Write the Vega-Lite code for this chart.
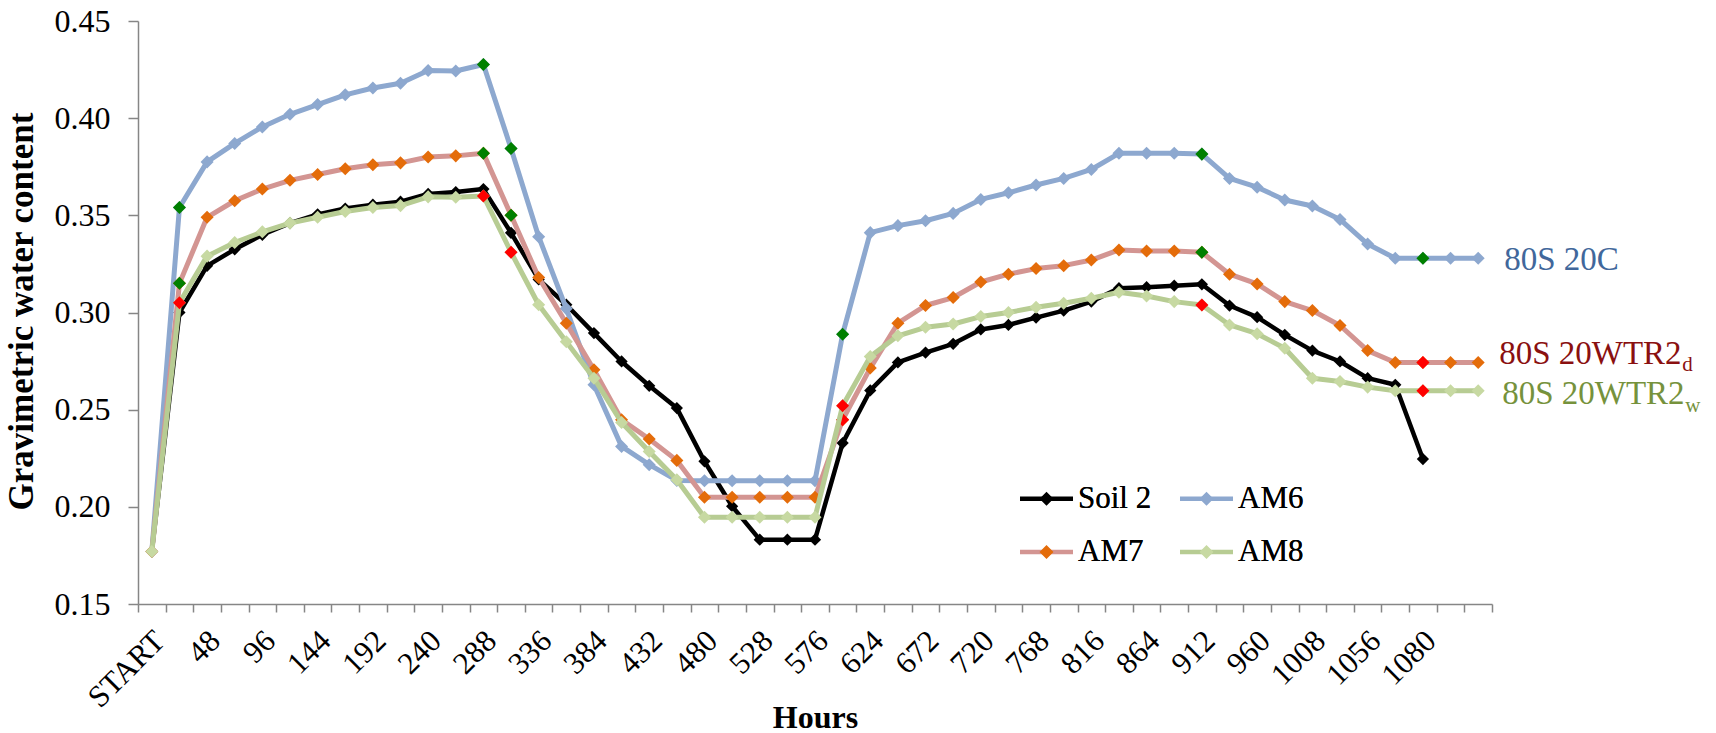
{
 "$schema": "https://vega.github.io/schema/vega-lite/v6.json",
 "width": 1354,
 "height": 583,
 "autosize": {"type": "none"},
 "padding": {"left": 138, "top": 21, "right": 224, "bottom": 129},
 "background": "white",
 "config": {"view": {"stroke": null}, "font": "Liberation Serif"},
 "datasets": {
  "wide": [
   {"hour": "START", "Soil 2": 0.177, "AM6": 0.177, "AM7": 0.177, "AM8": 0.177},
   {"hour": "24", "Soil 2": 0.300, "AM6": 0.354, "AM7": 0.315, "AM8": 0.305},
   {"hour": "48", "Soil 2": 0.324, "AM6": 0.3775, "AM7": 0.349, "AM8": 0.329},
   {"hour": "72", "Soil 2": 0.3325, "AM6": 0.387, "AM7": 0.3575, "AM8": 0.336},
   {"hour": "96", "Soil 2": 0.340, "AM6": 0.3955, "AM7": 0.3635, "AM8": 0.3415},
   {"hour": "120", "Soil 2": 0.346, "AM6": 0.402, "AM7": 0.368, "AM8": 0.346},
   {"hour": "144", "Soil 2": 0.3505, "AM6": 0.407, "AM7": 0.371, "AM8": 0.349},
   {"hour": "168", "Soil 2": 0.3535, "AM6": 0.412, "AM7": 0.374, "AM8": 0.352},
   {"hour": "192", "Soil 2": 0.3555, "AM6": 0.4155, "AM7": 0.376, "AM8": 0.354},
   {"hour": "216", "Soil 2": 0.357, "AM6": 0.418, "AM7": 0.377, "AM8": 0.355},
   {"hour": "240", "Soil 2": 0.361, "AM6": 0.4245, "AM7": 0.380, "AM8": 0.3595},
   {"hour": "264", "Soil 2": 0.362, "AM6": 0.4243, "AM7": 0.3806, "AM8": 0.3593},
   {"hour": "288", "Soil 2": 0.3635, "AM6": 0.4276, "AM7": 0.382, "AM8": 0.360},
   {"hour": "312", "Soil 2": 0.341, "AM6": 0.3844, "AM7": 0.350, "AM8": 0.331},
   {"hour": "336", "Soil 2": 0.317, "AM6": 0.339, "AM7": 0.318, "AM8": 0.304},
   {"hour": "360", "Soil 2": 0.304, "AM6": 0.302, "AM7": 0.2945, "AM8": 0.285},
   {"hour": "384", "Soil 2": 0.2894, "AM6": 0.2628, "AM7": 0.2705, "AM8": 0.2662},
   {"hour": "408", "Soil 2": 0.2748, "AM6": 0.2311, "AM7": 0.2448, "AM8": 0.2434},
   {"hour": "432", "Soil 2": 0.2623, "AM6": 0.2217, "AM7": 0.2349, "AM8": 0.2285},
   {"hour": "456", "Soil 2": 0.2508, "AM6": 0.2136, "AM7": 0.2239, "AM8": 0.2139},
   {"hour": "480", "Soil 2": 0.2234, "AM6": 0.2134, "AM7": 0.2049, "AM8": 0.1946},
   {"hour": "504", "Soil 2": 0.2003, "AM6": 0.2134, "AM7": 0.2049, "AM8": 0.1946},
   {"hour": "528", "Soil 2": 0.1831, "AM6": 0.2134, "AM7": 0.2049, "AM8": 0.1946},
   {"hour": "552", "Soil 2": 0.1831, "AM6": 0.2134, "AM7": 0.2049, "AM8": 0.1946},
   {"hour": "576", "Soil 2": 0.1831, "AM6": 0.2134, "AM7": 0.2049, "AM8": 0.1946},
   {"hour": "600", "Soil 2": 0.2328, "AM6": 0.2888, "AM7": 0.2448, "AM8": 0.252},
   {"hour": "624", "Soil 2": 0.2599, "AM6": 0.3411, "AM7": 0.2714, "AM8": 0.2773},
   {"hour": "648", "Soil 2": 0.2743, "AM6": 0.3447, "AM7": 0.2945, "AM8": 0.288},
   {"hour": "672", "Soil 2": 0.2794, "AM6": 0.3472, "AM7": 0.3036, "AM8": 0.2924},
   {"hour": "696", "Soil 2": 0.2839, "AM6": 0.351, "AM7": 0.3077, "AM8": 0.2941},
   {"hour": "720", "Soil 2": 0.2913, "AM6": 0.3582, "AM7": 0.3157, "AM8": 0.2979},
   {"hour": "744", "Soil 2": 0.2936, "AM6": 0.3616, "AM7": 0.3197, "AM8": 0.300},
   {"hour": "768", "Soil 2": 0.2974, "AM6": 0.3656, "AM7": 0.3226, "AM8": 0.3027},
   {"hour": "792", "Soil 2": 0.301, "AM6": 0.369, "AM7": 0.3241, "AM8": 0.3048},
   {"hour": "816", "Soil 2": 0.3056, "AM6": 0.3736, "AM7": 0.327, "AM8": 0.3073},
   {"hour": "840", "Soil 2": 0.3125, "AM6": 0.3819, "AM7": 0.3322, "AM8": 0.3104},
   {"hour": "864", "Soil 2": 0.313, "AM6": 0.3819, "AM7": 0.3316, "AM8": 0.3085},
   {"hour": "888", "Soil 2": 0.3138, "AM6": 0.3819, "AM7": 0.3316, "AM8": 0.3056},
   {"hour": "912", "Soil 2": 0.3145, "AM6": 0.3815, "AM7": 0.331, "AM8": 0.3039},
   {"hour": "936", "Soil 2": 0.3036, "AM6": 0.369, "AM7": 0.3197, "AM8": 0.2936},
   {"hour": "960", "Soil 2": 0.2976, "AM6": 0.3645, "AM7": 0.3147, "AM8": 0.2891},
   {"hour": "984", "Soil 2": 0.2885, "AM6": 0.3579, "AM7": 0.3056, "AM8": 0.2816},
   {"hour": "1008", "Soil 2": 0.2804, "AM6": 0.3548, "AM7": 0.301, "AM8": 0.2662},
   {"hour": "1032", "Soil 2": 0.2748, "AM6": 0.3479, "AM7": 0.2933, "AM8": 0.2645},
   {"hour": "1056", "Soil 2": 0.2662, "AM6": 0.3352, "AM7": 0.2804, "AM8": 0.2616},
   {"hour": "1068", "Soil 2": 0.2628, "AM6": 0.3279, "AM7": 0.2743, "AM8": 0.2597},
   {"hour": "1080", "Soil 2": 0.2246, "AM6": 0.3279, "AM7": 0.2743, "AM8": 0.2597},
   {"hour": "1092", "AM6": 0.3279, "AM7": 0.2743, "AM8": 0.2597},
   {"hour": "1104", "AM6": 0.3279, "AM7": 0.2743, "AM8": 0.2597}
  ],
  "highlights": [
   {"hour": "24", "series": "AM6", "value": 0.354, "kind": "g"},
   {"hour": "24", "series": "AM7", "value": 0.315, "kind": "g"},
   {"hour": "24", "series": "AM8", "value": 0.305, "kind": "r"},
   {"hour": "288", "series": "AM6", "value": 0.4276, "kind": "g"},
   {"hour": "288", "series": "AM7", "value": 0.382, "kind": "g"},
   {"hour": "288", "series": "AM8", "value": 0.360, "kind": "r"},
   {"hour": "312", "series": "AM6", "value": 0.3844, "kind": "g"},
   {"hour": "312", "series": "AM7", "value": 0.350, "kind": "g"},
   {"hour": "312", "series": "AM8", "value": 0.331, "kind": "r"},
   {"hour": "600", "series": "AM6", "value": 0.2888, "kind": "g"},
   {"hour": "600", "series": "AM7", "value": 0.2448, "kind": "r"},
   {"hour": "600", "series": "AM8", "value": 0.252, "kind": "r"},
   {"hour": "912", "series": "AM6", "value": 0.3815, "kind": "g"},
   {"hour": "912", "series": "AM7", "value": 0.331, "kind": "g"},
   {"hour": "912", "series": "AM8", "value": 0.3039, "kind": "r"},
   {"hour": "1080", "series": "AM6", "value": 0.3279, "kind": "g"},
   {"hour": "1080", "series": "AM7", "value": 0.2743, "kind": "r"},
   {"hour": "1080", "series": "AM8", "value": 0.2597, "kind": "r"}
  ],
  "notes": [
   {"hour": "1104", "series": "AM6", "value": 0.3279, "label": "80S 20C", "sub": ""},
   {"hour": "1104", "series": "AM7", "value": 0.2743, "label": "80S 20WTR2", "sub": "d"},
   {"hour": "1104", "series": "AM8", "value": 0.2597, "label": "80S 20WTR2", "sub": "w"}
  ]
 },
 "encoding": {
  "x": {
   "field": "hour", "type": "ordinal", "bandPosition": 0.5,
   "scale": {"type": "band", "paddingInner": 0, "paddingOuter": 0,
    "domain": ["START","24","48","72","96","120","144","168","192","216","240","264","288","312","336","360","384","408","432","456","480","504","528","552","576","600","624","648","672","696","720","744","768","792","816","840","864","888","912","936","960","984","1008","1032","1056","1068","1080","1092","1104"]},
   "axis": {
    "title": "Hours", "grid": false, "tickBand": "extent",
    "labelAngle": -45, "labelAlign": "right", "labelBaseline": "middle",
    "labelPadding": 24, "labelOffset": 8, "labelOverlap": false, "labelBound": false, "labelFlush": false,
    "labelFont": "Liberation Serif", "labelFontSize": 31, "labelColor": "#000000",
    "labelExpr": "indexof(['24','72','120','168','216','264','312','360','408','456','504','552','600','648','696','744','792','840','888','936','984','1032','1068','1092','1104'], datum.value) >= 0 ? '' : datum.label",
    "tickSize": 8, "tickColor": "#868686", "tickWidth": 1.5,
    "domainColor": "#868686", "domainWidth": 1.5,
    "titleFont": "Liberation Serif", "titleFontSize": 32, "titleFontWeight": "bold", "titleColor": "#000000",
    "titleY": 113, "titleBaseline": "middle"
   }
  },
  "y": {
   "field": "value", "type": "quantitative",
   "scale": {"domain": [0.15, 0.45], "nice": false, "zero": false},
   "axis": {
    "title": "Gravimetric water content", "grid": false,
    "values": [0.15, 0.2, 0.25, 0.3, 0.35, 0.4, 0.45], "format": ".2f",
    "tickSize": 10, "tickColor": "#868686", "tickWidth": 1.5,
    "domainColor": "#868686", "domainWidth": 1.5,
    "labelPadding": 18, "labelFont": "Liberation Serif", "labelFontSize": 32, "labelColor": "#000000",
    "titleFont": "Liberation Serif", "titleFontSize": 35, "titleFontWeight": "bold", "titleColor": "#000000",
    "titleX": -117, "titleY": 290, "titleAngle": -90, "titleAlign": "center", "titleBaseline": "middle"
   }
  }
 },
 "layer": [
  {
   "data": {"name": "wide"},
   "transform": [{"fold": ["Soil 2", "AM6", "AM7", "AM8"], "as": ["series", "value"]}, {"filter": "datum.series === 'Soil 2' && isValid(datum.value)"}],
   "mark": {"type": "line", "strokeWidth": 4.5, "strokeJoin": "round"},
   "encoding": {"stroke": {"field": "series", "type": "nominal",
     "scale": {"domain": ["Soil 2", "AM6", "AM7", "AM8"], "range": ["#000000", "#8DA8CF", "#D39592", "#B7CC93"]},
     "legend": {"title": null, "orient": "none", "direction": "horizontal", "legendX": 881, "legendY": 450, "columns": 2, "columnPadding": 19, "rowPadding": 9.5, "padding": 0,
      "symbolType": "M-1.06,0L1.06,0M0,-0.28L0,-0.28M0,0.28L0,0.28", "symbolSize": 2500, "symbolStrokeWidth": 4.5, "symbolOpacity": 1,
      "labelFont": "Liberation Serif", "labelFontSize": 31, "labelColor": "#000000", "labelOffset": 4}}}
  },
  {
   "data": {"name": "wide"},
   "transform": [{"fold": ["Soil 2", "AM6", "AM7", "AM8"], "as": ["series", "value"]}, {"filter": "datum.series === 'Soil 2' && isValid(datum.value)"}],
   "mark": {"type": "point", "shape": "diamond", "filled": true, "size": 150, "opacity": 1, "strokeWidth": 0},
   "encoding": {"fill": {"field": "series", "type": "nominal", "sort": ["Soil 2", "AM6", "AM7", "AM8"],
     "scale": {"range": ["#000000", "#8DA8CF", "#E46C0A", "#C7D9A2"]},
     "legend": {"title": null, "orient": "none", "direction": "horizontal", "legendX": 881, "legendY": 450, "columns": 2, "columnPadding": 19, "rowPadding": 9.5, "padding": 0,
      "symbolType": "M-1.06,0L-1.06,0M1.06,0L1.06,0M0,-0.28L0.28,0L0,0.28L-0.28,0Z", "symbolSize": 2500, "symbolStrokeWidth": 4.5, "symbolStrokeColor": "transparent", "symbolOpacity": 1,
      "labelFont": "Liberation Serif", "labelFontSize": 31, "labelColor": "#000000", "labelOffset": 4}}}
  },
  {
   "data": {"name": "wide"},
   "transform": [{"fold": ["Soil 2", "AM6", "AM7", "AM8"], "as": ["series", "value"]}, {"filter": "datum.series === 'AM6' && isValid(datum.value)"}],
   "mark": {"type": "line", "strokeWidth": 5, "strokeJoin": "round"},
   "encoding": {"stroke": {"field": "series", "type": "nominal"}}
  },
  {
   "data": {"name": "wide"},
   "transform": [{"fold": ["Soil 2", "AM6", "AM7", "AM8"], "as": ["series", "value"]}, {"filter": "datum.series === 'AM6' && isValid(datum.value)"}],
   "mark": {"type": "point", "shape": "diamond", "filled": true, "size": 170, "opacity": 1, "strokeWidth": 0},
   "encoding": {"fill": {"field": "series", "type": "nominal", "sort": ["Soil 2", "AM6", "AM7", "AM8"]}}
  },
  {
   "data": {"name": "highlights"},
   "transform": [{"filter": "datum.series === 'AM6'"}],
   "mark": {"type": "point", "shape": "diamond", "filled": true, "size": 170, "opacity": 1, "strokeWidth": 0},
   "encoding": {"fill": {"condition": {"test": "datum.kind === 'g'", "value": "#008000"}, "value": "#FF0000"}}
  },
  {
   "data": {"name": "wide"},
   "transform": [{"fold": ["Soil 2", "AM6", "AM7", "AM8"], "as": ["series", "value"]}, {"filter": "datum.series === 'AM7' && isValid(datum.value)"}],
   "mark": {"type": "line", "strokeWidth": 5, "strokeJoin": "round"},
   "encoding": {"stroke": {"field": "series", "type": "nominal"}}
  },
  {
   "data": {"name": "wide"},
   "transform": [{"fold": ["Soil 2", "AM6", "AM7", "AM8"], "as": ["series", "value"]}, {"filter": "datum.series === 'AM7' && isValid(datum.value)"}],
   "mark": {"type": "point", "shape": "diamond", "filled": true, "size": 170, "opacity": 1, "strokeWidth": 0},
   "encoding": {"fill": {"field": "series", "type": "nominal", "sort": ["Soil 2", "AM6", "AM7", "AM8"]}}
  },
  {
   "data": {"name": "highlights"},
   "transform": [{"filter": "datum.series === 'AM7'"}],
   "mark": {"type": "point", "shape": "diamond", "filled": true, "size": 170, "opacity": 1, "strokeWidth": 0},
   "encoding": {"fill": {"condition": {"test": "datum.kind === 'g'", "value": "#008000"}, "value": "#FF0000"}}
  },
  {
   "data": {"name": "wide"},
   "transform": [{"fold": ["Soil 2", "AM6", "AM7", "AM8"], "as": ["series", "value"]}, {"filter": "datum.series === 'AM8' && isValid(datum.value)"}],
   "mark": {"type": "line", "strokeWidth": 5, "strokeJoin": "round"},
   "encoding": {"stroke": {"field": "series", "type": "nominal"}}
  },
  {
   "data": {"name": "wide"},
   "transform": [{"fold": ["Soil 2", "AM6", "AM7", "AM8"], "as": ["series", "value"]}, {"filter": "datum.series === 'AM8' && isValid(datum.value)"}],
   "mark": {"type": "point", "shape": "diamond", "filled": true, "size": 170, "opacity": 1, "strokeWidth": 0},
   "encoding": {"fill": {"field": "series", "type": "nominal", "sort": ["Soil 2", "AM6", "AM7", "AM8"]}}
  },
  {
   "data": {"name": "highlights"},
   "transform": [{"filter": "datum.series === 'AM8'"}],
   "mark": {"type": "point", "shape": "diamond", "filled": true, "size": 170, "opacity": 1, "strokeWidth": 0},
   "encoding": {"fill": {"condition": {"test": "datum.kind === 'g'", "value": "#008000"}, "value": "#FF0000"}}
  },
  {
   "data": {"name": "notes"},
   "transform": [{"filter": "datum.series === 'AM6'"}],
   "mark": {"type": "text", "align": "left", "baseline": "alphabetic", "dx": 26, "dy": 11.6, "font": "Liberation Serif", "fontSize": 33, "color": "#41679B"},
   "encoding": {"text": {"field": "label"}}
  },
  {
   "data": {"name": "notes"},
   "transform": [{"filter": "datum.series === 'AM7'"}],
   "mark": {"type": "text", "align": "left", "baseline": "alphabetic", "dx": 21, "dy": 1.8, "font": "Liberation Serif", "fontSize": 33, "color": "#8A1010"},
   "encoding": {"text": {"field": "label"}}
  },
  {
   "data": {"name": "notes"},
   "transform": [{"filter": "datum.series === 'AM7'"}],
   "mark": {"type": "text", "align": "left", "baseline": "alphabetic", "dx": 204, "dy": 9, "font": "Liberation Serif", "fontSize": 21, "color": "#8A1010"},
   "encoding": {"text": {"field": "sub"}}
  },
  {
   "data": {"name": "notes"},
   "transform": [{"filter": "datum.series === 'AM8'"}],
   "mark": {"type": "text", "align": "left", "baseline": "alphabetic", "dx": 24, "dy": 13.4, "font": "Liberation Serif", "fontSize": 33, "color": "#76923C"},
   "encoding": {"text": {"field": "label"}}
  },
  {
   "data": {"name": "notes"},
   "transform": [{"filter": "datum.series === 'AM8'"}],
   "mark": {"type": "text", "align": "left", "baseline": "alphabetic", "dx": 207, "dy": 21, "font": "Liberation Serif", "fontSize": 21, "color": "#76923C"},
   "encoding": {"text": {"field": "sub"}}
  }
 ]
}
